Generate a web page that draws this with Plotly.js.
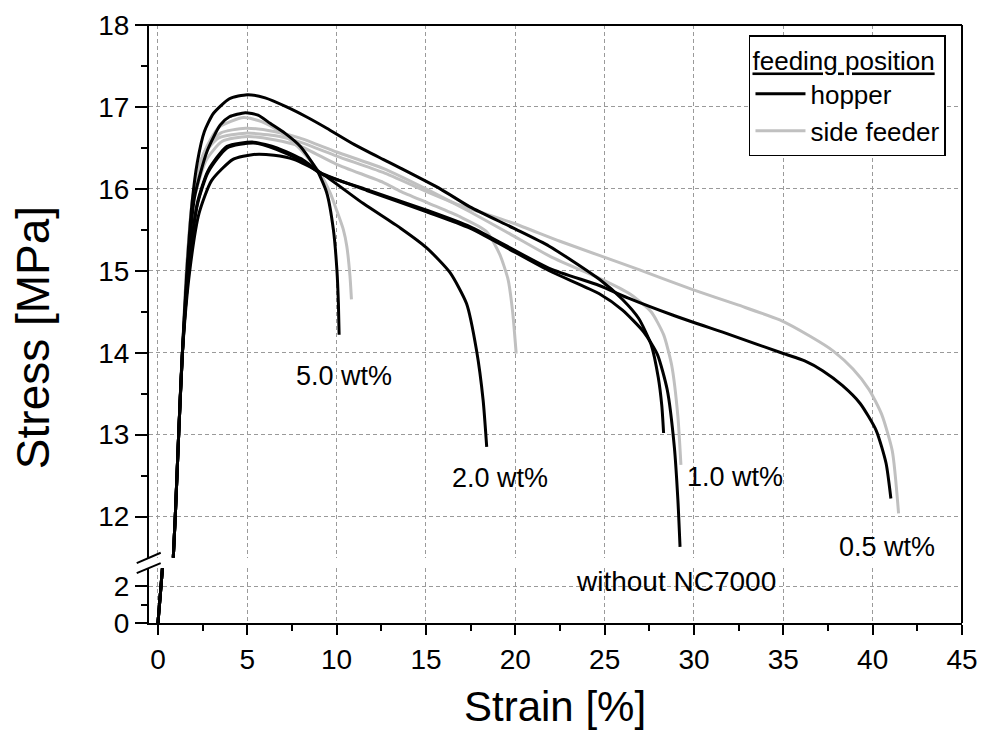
<!DOCTYPE html>
<html>
<head>
<meta charset="utf-8">
<script src="https://cdn.plot.ly/plotly-3.0.1.min.js"></script>
<style>html,body{margin:0;padding:0;background:#fff;}#chart{width:982px;height:751px;}</style>
</head>
<body>
<div id="chart"></div>
<script>
// ---- data (strain %, stress MPa) ----
const hopper_05_x = [0, 0.25, 0.7, 0.86, 0.97, 1.16, 1.37, 1.72, 2.2, 2.8, 3.87, 5.35, 6.66, 8.15, 9.08, 11.69, 15.04, 17.46, 21.9, 24.7, 26.4, 28.8, 32.0, 35.0, 36.2, 37.2, 38.3, 39.3, 40.2, 40.75, 41.02];
const hopper_05_y = [0, 3, 10.5, 11.5, 12, 13, 14, 15.0, 15.8, 16.2, 16.5, 16.56, 16.48, 16.33, 16.19, 15.99, 15.74, 15.54, 15.03, 14.82, 14.66, 14.46, 14.22, 13.99, 13.9, 13.78, 13.6, 13.38, 13.05, 12.65, 12.22];

const hopper_0_x = [0, 0.25, 0.7, 0.86, 0.97, 1.16, 1.37, 1.72, 2.2, 2.8, 3.87, 5.35, 6.66, 8.15, 9.08, 11.69, 15.04, 17.46, 21.9, 24.7, 26.0, 27.2, 27.95, 28.5, 28.9, 29.1, 29.22];
const hopper_0_y = [0, 3, 10.5, 11.5, 12, 13, 14, 15.0, 15.82, 16.22, 16.52, 16.57, 16.5, 16.35, 16.2, 15.98, 15.72, 15.52, 15.0, 14.72, 14.52, 14.25, 13.98, 13.55, 12.85, 12.2, 11.63];

const hopper_1_x = [0, 0.25, 0.7, 0.86, 0.97, 1.16, 1.37, 1.62, 1.92, 2.2, 2.6, 3.1, 4.0, 5.0, 6.0, 7.2, 8.3, 9.45, 11.0, 12.6, 13.6, 15.8, 17.46, 19.9, 21.9, 24.74, 26.0, 26.9, 27.6, 28.0, 28.2, 28.3];
const hopper_1_y = [0, 3, 10.5, 11.5, 12, 13, 14, 15.0, 15.85, 16.32, 16.7, 16.92, 17.1, 17.15, 17.11, 17.0, 16.88, 16.74, 16.54, 16.36, 16.25, 16.0, 15.78, 15.52, 15.3, 14.89, 14.65, 14.42, 14.1, 13.7, 13.35, 13.02];

const hopper_2_x = [0, 0.25, 0.7, 0.86, 0.97, 1.16, 1.37, 1.78, 2.3, 3.0, 4.2, 5.35, 6.5, 7.6, 9.08, 11.5, 13.58, 15.04, 16.34, 17.27, 17.83, 18.2, 18.4];
const hopper_2_y = [0, 3, 10.5, 11.5, 12, 13, 14, 15.0, 15.7, 16.1, 16.36, 16.42, 16.41, 16.36, 16.2, 15.82, 15.52, 15.28, 14.98, 14.6, 14.03, 13.42, 12.85];

const hopper_5_x = [0, 0.25, 0.7, 0.86, 0.97, 1.16, 1.37, 1.65, 2.05, 2.75, 3.49, 4.0, 4.89, 5.6, 6.28, 7.1, 7.96, 8.9, 9.45, 9.82, 10.02, 10.1, 10.14];
const hopper_5_y = [0, 3, 10.5, 11.5, 12, 13, 14, 15.0, 15.9, 16.46, 16.78, 16.88, 16.93, 16.9, 16.8, 16.68, 16.52, 16.23, 15.95, 15.5, 15.0, 14.6, 14.22];

const side_05_x = [0, 0.25, 0.7, 0.86, 0.97, 1.16, 1.37, 1.6, 1.95, 2.5, 3.4, 4.9, 6.5, 7.96, 10.0, 12.6, 15.0, 16.9, 19.9, 22.5, 26.96, 29.93, 32.5, 34.8, 36.5, 37.8, 38.9, 39.8, 40.5, 41.1, 41.45];
const side_05_y = [0, 3, 10.5, 11.5, 12, 13, 14, 15.0, 15.9, 16.4, 16.62, 16.68, 16.65, 16.57, 16.4, 16.2, 15.97, 15.8, 15.58, 15.36, 15.01, 14.77, 14.58, 14.4, 14.2, 14.02, 13.8, 13.55, 13.25, 12.8, 12.04];

const side_1_x = [0, 0.25, 0.7, 0.86, 0.97, 1.16, 1.37, 1.6, 1.97, 2.6, 3.5, 4.9, 6.5, 7.96, 10.0, 12.6, 15.0, 17.46, 19.7, 22.0, 24.9, 26.4, 27.6, 28.3, 28.75, 29.1, 29.27];
const side_1_y = [0, 3, 10.5, 11.5, 12, 13, 14, 15.0, 15.9, 16.45, 16.68, 16.74, 16.7, 16.62, 16.45, 16.25, 16.0, 15.72, 15.45, 15.17, 14.89, 14.72, 14.5, 14.22, 13.85, 13.22, 12.63];

const side_2_x = [0, 0.25, 0.7, 0.86, 0.97, 1.16, 1.37, 1.62, 2.0, 2.7, 3.6, 5.0, 6.5, 7.96, 10.0, 12.6, 13.58, 15.2, 16.9, 18.39, 19.13, 19.6, 19.85, 20.05];
const side_2_y = [0, 3, 10.5, 11.5, 12, 13, 14, 15.0, 15.85, 16.35, 16.58, 16.64, 16.6, 16.52, 16.3, 16.08, 15.97, 15.82, 15.66, 15.48, 15.2, 14.89, 14.5, 13.99];

const side_5_x = [0, 0.25, 0.7, 0.86, 0.97, 1.16, 1.37, 1.6, 1.95, 2.6, 3.4, 4.8, 5.8, 6.8, 7.8, 8.5, 9.08, 9.64, 10.0, 10.38, 10.57, 10.75, 10.83];
const side_5_y = [0, 3, 10.5, 11.5, 12, 13, 14, 15.0, 15.9, 16.45, 16.75, 16.87, 16.82, 16.7, 16.52, 16.35, 16.19, 15.95, 15.74, 15.5, 15.3, 14.93, 14.65];

const series_names = ['hopper', 'side feeder'];
const curve_labels = ['5.0 wt%', '2.0 wt%', '1.0 wt%', '0.5 wt%'];
const label_x = [10.42, 19.13, 32.3, 40.8];
const label_y = [13.72, 12.47, 12.48, 11.63];
const base_label = 'without NC7000';
const base_label_x = 29.0;
const x_ticks = [0, 5, 10, 15, 20, 25, 30, 35, 40, 45];
const y_low_ticks = [0, 2];
const y_high_ticks = [12, 13, 14, 15, 16, 17, 18];

// ---- build traces ----
const FONT = 'Liberation Sans, Arial, Helvetica, sans-serif';
const BLACK = '#000000', GREY = '#c0c0c0';
const curves = [
  {x: side_05_x, y: side_05_y, c: GREY, g: 1},
  {x: side_1_x, y: side_1_y, c: GREY, g: 1},
  {x: side_2_x, y: side_2_y, c: GREY, g: 1},
  {x: side_5_x, y: side_5_y, c: GREY, g: 1},
  {x: hopper_05_x, y: hopper_05_y, c: BLACK, g: 0},
  {x: hopper_0_x, y: hopper_0_y, c: BLACK, g: 0},
  {x: hopper_1_x, y: hopper_1_y, c: BLACK, g: 0},
  {x: hopper_2_x, y: hopper_2_y, c: BLACK, g: 0},
  {x: hopper_5_x, y: hopper_5_y, c: BLACK, g: 0}
];
const traces = [];
const shownGroup = {};
curves.forEach(cv => {
  ['y', 'y2'].forEach(ax => {
    const show = (ax === 'y2' && !shownGroup[cv.g]);
    if (show) shownGroup[cv.g] = true;
    traces.push({
      type: 'scatter', mode: 'lines', x: cv.x, y: cv.y, xaxis: 'x', yaxis: ax,
      line: {color: cv.c, width: 3, shape: 'spline', smoothing: 0.6},
      name: series_names[cv.g], legendgroup: 'g' + cv.g, legendrank: cv.g + 1,
      showlegend: show, hoverinfo: 'skip'
    });
  });
});

const annotations = curve_labels.map((t, i) => ({
  text: t, x: label_x[i], y: label_y[i], xref: 'x', yref: 'y2',
  showarrow: false, font: {family: FONT, size: 27, color: '#000'},
  xanchor: 'center', yanchor: 'middle'
}));
annotations.push({
  text: base_label, x: base_label_x, y: 0.0702, xref: 'x', yref: 'paper',
  showarrow: false, font: {family: FONT, size: 28, color: '#000'},
  xanchor: 'center', yanchor: 'middle'
});
annotations.push({
  text: 'Stress [MPa]', xref: 'paper', yref: 'paper', x: -0.1427, y: 0.478,
  textangle: -90, showarrow: false, xanchor: 'center', yanchor: 'middle',
  font: {family: FONT, size: 46, color: '#000'}
});
annotations.push({
  text: 'Strain [%]', xref: 'paper', yref: 'paper', x: 0.499, y: -0.139,
  showarrow: false, xanchor: 'center', yanchor: 'middle',
  font: {family: FONT, size: 42, color: '#000'}
});

const gridStyle = {showgrid: true, gridcolor: '#9a9a9a', gridwidth: 1, griddash: '4px,3px'};
const lineStyle = {showline: true, linecolor: '#000', linewidth: 2, zeroline: false,
  ticks: 'outside', tickcolor: '#000', tickwidth: 2,
  tickfont: {family: FONT, size: 28, color: '#000'}};

const layout = {
  width: 982, height: 751,
  margin: {l: 149, r: 20, t: 25, b: 128},
  paper_bgcolor: '#fff', plot_bgcolor: '#fff',
  font: {family: FONT, color: '#000'},
  showlegend: true,
  legend: {
    x: 0.9803, y: 0.983, xanchor: 'right', yanchor: 'top',
    bgcolor: '#fff', bordercolor: '#000', borderwidth: 1.5,
    font: {family: FONT, size: 26, color: '#000'},
    title: {text: '<u>feeding position</u>', font: {family: FONT, size: 26, color: '#000'}, side: 'top'},
    tracegroupgap: 0, itemwidth: 50, traceorder: 'normal'
  },
  xaxis: Object.assign({}, gridStyle, lineStyle, {
    range: [-0.5, 45], anchor: 'y', tickmode: 'array', tickvals: x_ticks, ticklen: 10,
    minor: {dtick: 2.5, tick0: 0, ticks: 'outside', ticklen: 6, tickwidth: 2, tickcolor: '#000', showgrid: false}
  }),
  yaxis: Object.assign({}, gridStyle, lineStyle, {
    domain: [0, 0.0916], range: [0, 3], anchor: 'x', tickmode: 'array', tickvals: y_low_ticks, ticklen: 12,
    minor: {tickmode: 'array', tickvals: [1], ticks: 'outside', ticklen: 6, tickwidth: 2, tickcolor: '#000', showgrid: false}
  }),
  yaxis2: Object.assign({}, gridStyle, lineStyle, {
    domain: [0.1095, 1], range: [11.5, 18], anchor: 'x', tickmode: 'array', tickvals: y_high_ticks, ticklen: 12,
    minor: {tickmode: 'array', tickvals: [12.5, 13.5, 14.5, 15.5, 16.5, 17.5], ticks: 'outside', ticklen: 6, tickwidth: 2, tickcolor: '#000', showgrid: false}
  }),
  shapes: [
    {type: 'line', xref: 'paper', yref: 'paper', x0: -0.0148, x1: 1, y0: 1, y1: 1, line: {color: '#000', width: 2}},
    {type: 'line', xref: 'paper', yref: 'paper', x0: 1, x1: 1, y0: 0, y1: 1, line: {color: '#000', width: 2}},
    {type: 'line', xref: 'paper', yref: 'paper', x0: -0.0151, x1: 0.0144, y0: 0.1001, y1: 0.1175, line: {color: '#000', width: 2}},
    {type: 'line', xref: 'paper', yref: 'paper', x0: -0.0151, x1: 0.0144, y0: 0.0833, y1: 0.1001, line: {color: '#000', width: 2}}
  ],
  annotations: annotations
};

Plotly.newPlot('chart', traces, layout, {displayModeBar: false, staticPlot: true});
</script>
</body>
</html>
